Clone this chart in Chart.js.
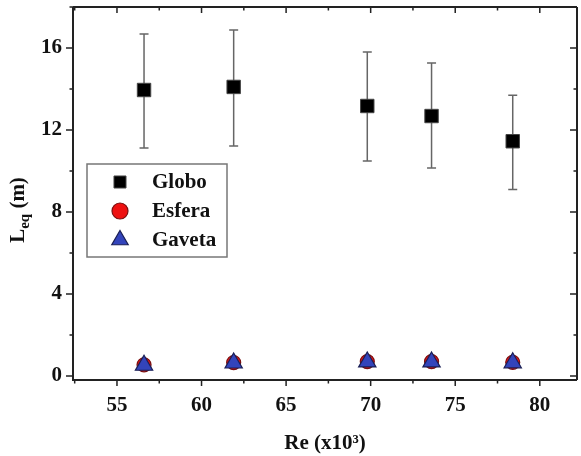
<!DOCTYPE html>
<html>
<head>
<meta charset="utf-8">
<script src="https://cdn.jsdelivr.net/npm/chart.js@4"></script>
<style>
    html, body { margin: 0; padding: 0; background: #fff; }
    #wrap { width: 581px; height: 456px; }
</style>
</head>
<body>
<div id="wrap"><canvas id="grafico"></canvas></div>
<script>
// Dados
const reValores = [56.6, 61.9, 69.8, 73.6, 78.4];
const globo = [13.95, 14.1, 13.17, 12.68, 11.45];
const globoErroMin = [11.12, 11.22, 10.49, 10.15, 9.1];
const globoErroMax = [16.68, 16.88, 15.8, 15.27, 13.7];
const esfera = [0.54, 0.65, 0.7, 0.7, 0.66];
const gaveta = [0.52, 0.63, 0.68, 0.68, 0.64];

const xTicks = [55, 60, 65, 70, 75, 80];
const xMinor = [52.5, 57.5, 62.5, 67.5, 72.5, 77.5, 82.5];
const yTicks = [0, 4, 8, 12, 16];
const yMinor = [2, 6, 10, 14, 18];

const fonte = '"Liberation Serif", "Times New Roman", serif';
const corEixo = '#222';

function pontos(ys) {
    return reValores.map((x, i) => ({ x: x, y: ys[i] }));
}

// Barras de erro, moldura, ticks e legenda desenhados com as escalas
const plugEixos = {
    id: 'plugEixos',
    beforeDatasetsDraw(chart) {
        const ctx = chart.ctx;
        const xs = chart.scales.x;
        const ys = chart.scales.y;
        ctx.save();
        ctx.strokeStyle = '#666';
        ctx.lineWidth = 1.5;
        reValores.forEach((v, i) => {
            const px = xs.getPixelForValue(v);
            const p1 = ys.getPixelForValue(globoErroMin[i]);
            const p2 = ys.getPixelForValue(globoErroMax[i]);
            ctx.beginPath();
            ctx.moveTo(px, p1); ctx.lineTo(px, p2);
            ctx.moveTo(px - 4.5, p1); ctx.lineTo(px + 4.5, p1);
            ctx.moveTo(px - 4.5, p2); ctx.lineTo(px + 4.5, p2);
            ctx.stroke();
        });
        ctx.restore();
    },
    afterDraw(chart) {
        const ctx = chart.ctx;
        const a = chart.chartArea;
        const xs = chart.scales.x;
        const ys = chart.scales.y;
        ctx.save();
        ctx.strokeStyle = corEixo;

        // ticks (para fora embaixo/esquerda, para dentro em cima/direita)
        ctx.lineWidth = 1.5;
        ctx.beginPath();
        const tickX = (v, len) => {
            const px = xs.getPixelForValue(v);
            if (px < a.left || px > a.right) return;
            ctx.moveTo(px, a.bottom); ctx.lineTo(px, a.bottom + len);
            ctx.moveTo(px, a.top); ctx.lineTo(px, a.top + len);
        };
        const tickY = (v, len) => {
            const py = ys.getPixelForValue(v);
            if (py < a.top || py > a.bottom) return;
            ctx.moveTo(a.left, py); ctx.lineTo(a.left - len, py);
            ctx.moveTo(a.right, py); ctx.lineTo(a.right - len, py);
        };
        xTicks.forEach(v => tickX(v, 6));
        xMinor.forEach(v => tickX(v, 3.5));
        yTicks.forEach(v => tickY(v, 7));
        yMinor.forEach(v => tickY(v, 3.5));
        ctx.stroke();

        // moldura
        ctx.lineWidth = 2;
        ctx.beginPath();
        ctx.moveTo(a.left, a.top); ctx.lineTo(a.right, a.top);
        ctx.moveTo(a.right, a.top); ctx.lineTo(a.right, a.bottom);
        ctx.moveTo(a.left, a.top); ctx.lineTo(a.left, a.bottom + 1);
        ctx.moveTo(a.left - 1, a.bottom); ctx.lineTo(a.right, a.bottom);
        ctx.stroke();

        // título do eixo y com subscrito
        ctx.fillStyle = '#111';
        ctx.translate(24, 210);
        ctx.rotate(-Math.PI / 2);
        ctx.textBaseline = 'alphabetic';
        ctx.font = 'bold 21px ' + fonte;
        const wL = ctx.measureText('L').width;
        ctx.font = 'bold 15px ' + fonte;
        const wSub = ctx.measureText('eq').width;
        ctx.font = 'bold 21px ' + fonte;
        const wResto = ctx.measureText(' (m)').width;
        let x0 = -(wL + wSub + wResto) / 2;
        ctx.fillText('L', x0, 0);
        ctx.font = 'bold 15px ' + fonte;
        ctx.fillText('eq', x0 + wL, 5);
        ctx.font = 'bold 21px ' + fonte;
        ctx.fillText(' (m)', x0 + wL + wSub, 0);
        ctx.setTransform(1, 0, 0, 1, 0, 0);

        // legenda
        const lx = 87, ly = 164, lw = 140, lh = 93;
        ctx.fillStyle = '#fff';
        ctx.fillRect(lx, ly, lw, lh);
        ctx.strokeStyle = '#777';
        ctx.lineWidth = 1.5;
        ctx.strokeRect(lx, ly, lw, lh);
        const linhas = [182, 211, 240];
        chart.data.datasets.forEach((ds, i) => {
            ctx.save();
            ctx.fillStyle = ds.backgroundColor;
            ctx.strokeStyle = ds.borderColor;
            ctx.lineWidth = ds.borderWidth;
            Chart.helpers.drawPoint(ctx, {
                pointStyle: ds.pointStyle,
                radius: ds.legendRadius,
                borderWidth: ds.borderWidth
            }, 120, linhas[i]);
            ctx.restore();
            ctx.fillStyle = '#111';
            ctx.font = 'bold 21px ' + fonte;
            ctx.textBaseline = 'middle';
            ctx.fillText(ds.label, 152, linhas[i] + 1);
        });
        ctx.restore();
    }
};

new Chart(document.getElementById('grafico'), {
    type: 'scatter',
    data: {
        datasets: [
            {
                label: 'Globo',
                data: pontos(globo),
                order: 0,
                pointStyle: 'rect',
                pointRadius: 9.5,
                legendRadius: 8.5,
                backgroundColor: '#000',
                borderColor: '#444',
                borderWidth: 1
            },
            {
                label: 'Esfera',
                data: pontos(esfera),
                order: 2,
                pointStyle: 'circle',
                pointRadius: 7,
                legendRadius: 8,
                backgroundColor: '#ee1111',
                borderColor: '#7a1010',
                borderWidth: 1.2
            },
            {
                label: 'Gaveta',
                data: pontos(gaveta),
                order: 1,
                pointStyle: 'triangle',
                pointRadius: 10,
                legendRadius: 9.5,
                backgroundColor: '#3344bb',
                borderColor: '#1a1f55',
                borderWidth: 1.2
            }
        ]
    },
    options: {
        responsive: true,
        maintainAspectRatio: false,
        animation: false,
        events: [],
        layout: {
            autoPadding: false,
            padding: { top: 7, right: 4, left: 0, bottom: 0 }
        },
        plugins: {
            legend: { display: false },
            tooltip: { enabled: false }
        },
        scales: {
            x: {
                type: 'linear',
                min: 52.4,
                max: 82.2,
                afterBuildTicks: eixo => { eixo.ticks = xTicks.map(v => ({ value: v })); },
                afterFit: eixo => {
                    eixo.height = 76;
                    eixo.paddingLeft = 0;
                    eixo.paddingRight = 0;
                },
                grid: { display: false, drawTicks: false },
                border: { display: false },
                ticks: {
                    color: '#111',
                    padding: 13,
                    maxRotation: 0,
                    font: { family: fonte, size: 21, weight: 'bold' }
                },
                title: {
                    display: true,
                    text: 'Re (x10³)',
                    color: '#111',
                    padding: { top: 4, bottom: 0 },
                    font: { family: fonte, size: 21, weight: 'bold' }
                }
            },
            y: {
                type: 'linear',
                min: -0.2,
                max: 18,
                afterBuildTicks: eixo => { eixo.ticks = yTicks.map(v => ({ value: v })); },
                afterFit: eixo => {
                    eixo.width = 73;
                    eixo.paddingTop = 0;
                    eixo.paddingBottom = 0;
                },
                grid: { display: false, drawTicks: false },
                border: { display: false },
                ticks: {
                    color: '#111',
                    padding: 11,
                    font: { family: fonte, size: 21, weight: 'bold' }
                }
            }
        }
    },
    plugins: [plugEixos]
});
</script>
</body>
</html>
